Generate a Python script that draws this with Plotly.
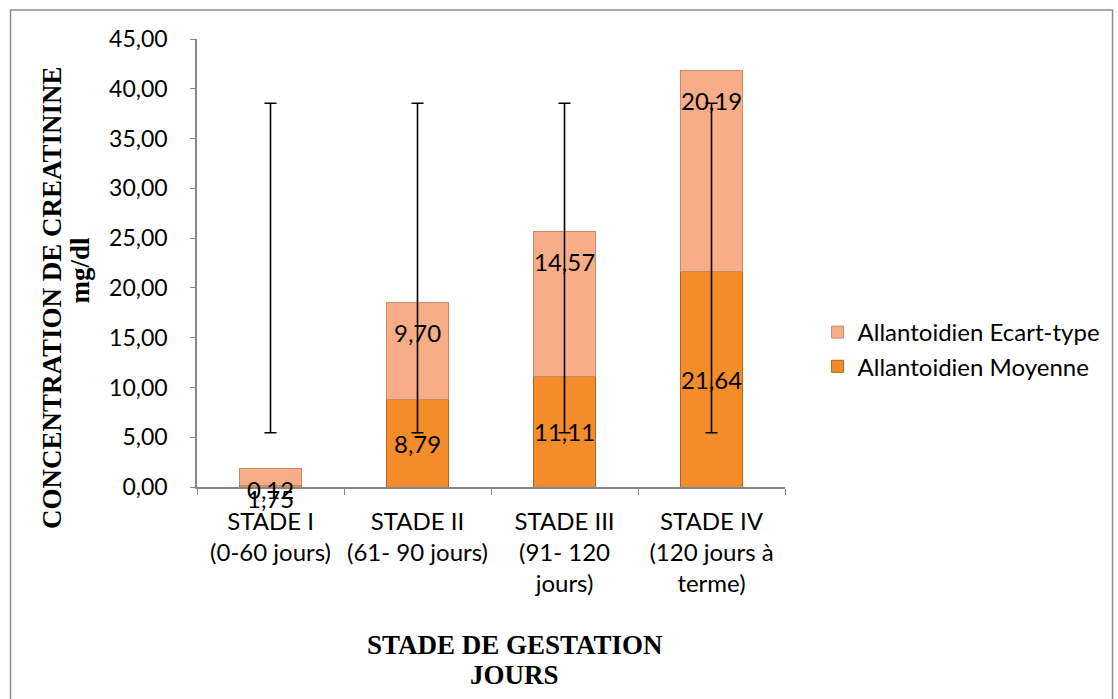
import plotly.graph_objects as go

categories = ["STADE I<br>(0-60 jours)", "STADE II<br>(61- 90 jours)",
              "STADE III<br>(91- 120<br>jours)", "STADE IV<br>(120 jours à<br>terme)"]
moyenne = [0.12, 8.79, 11.11, 21.64]
ecart_type = [1.75, 9.70, 14.57, 20.19]
moyenne_labels = ["0,12", "8,79", "11,11", "21,64"]
ecart_labels = ["1,75", "9,70", "14,57", "20,19"]
# error bars as drawn in the chart (centre value and half-length)
err_center = [22.0, 22.0, 22.0, 22.0]
err_half = [16.55, 16.55, 16.55, 16.55]

W, H = 1118, 699
L, R, T, B = 197, 325, 39, 212
pw, ph = W - L - R, H - T - B

def px_x(px):
    return (px - L) / pw

def px_y(py):
    return (H - B - py) / ph

lab_font = dict(family="Lato", size=24, color="black")
num_font = dict(family="Lato", size=23, color="black")
title_font = dict(family="Liberation Serif", size=27, color="black")

fig = go.Figure()
fig.add_trace(go.Bar(
    x=categories, y=moyenne, name="Allantoidien Moyenne",
    marker=dict(color="#F58C2C", line=dict(color="#B8621C", width=1)),
    legendgroup="m", width=0.42))
fig.add_trace(go.Bar(
    x=categories, y=ecart_type, name="Allantoidien Ecart-type",
    marker=dict(color="#F7AD87", line=dict(color="#C98A69", width=1)),
    legendgroup="e", width=0.42))
fig.add_trace(go.Scatter(
    x=categories, y=err_center, mode="markers",
    marker=dict(size=1, color="rgba(0,0,0,0)"),
    error_y=dict(type="data", array=err_half, visible=True,
                 color="black", thickness=1.6, width=6),
    showlegend=False, hoverinfo="skip"))

annotations = []
for i, c in enumerate(categories):
    ym = moyenne[i] / 2                 # centred in the "Moyenne" segment
    ytop = moyenne[i] + ecart_type[i]   # "inside end" of the "Ecart-type" segment
    annotations.append(dict(x=c, y=ym, text=moyenne_labels[i], showarrow=False,
                            font=lab_font, xref="x", yref="y",
                            yshift=-3 if i == 0 else 0))
    annotations.append(dict(x=c, y=ytop, text=ecart_labels[i], showarrow=False,
                            font=lab_font, xref="x", yref="y", yshift=-30))

annotations.append(dict(x=px_x(50), y=px_y(297), xref="paper", yref="paper",
                        xanchor="center", yanchor="middle",
                        text="<b>CONCENTRATION DE CREATININE</b>", textangle=-90,
                        showarrow=False, font=title_font))
annotations.append(dict(x=px_x(78), y=px_y(270), xref="paper", yref="paper",
                        xanchor="center", yanchor="middle",
                        text="<b>mg/dl</b>", textangle=-90,
                        showarrow=False, font=title_font))
annotations.append(dict(x=px_x(519), y=px_y(645), xref="paper", yref="paper",
                        xanchor="center", yanchor="middle",
                        text="<b>STADE DE GESTATION</b>",
                        showarrow=False, font=title_font))
annotations.append(dict(x=px_x(519), y=px_y(675), xref="paper", yref="paper",
                        xanchor="center", yanchor="middle",
                        text="<b>JOURS</b>",
                        showarrow=False, font=title_font))

fig.update_layout(
    width=W, height=H,
    margin=dict(l=L, r=R, t=T, b=B),
    paper_bgcolor="white", plot_bgcolor="white",
    barmode="stack", separators=", ",
    annotations=annotations,
    legend=dict(x=px_x(826), y=px_y(310), xanchor="left", yanchor="top",
                traceorder="reversed", tracegroupgap=29,
                font=lab_font, bgcolor="rgba(0,0,0,0)"),
    shapes=[dict(type="rect", xref="paper", yref="paper",
                 x0=px_x(8), x1=px_x(1125), y0=px_y(710), y1=px_y(10),
                 line=dict(color="#8C8C8C", width=1.5), fillcolor="rgba(0,0,0,0)")],
    xaxis=dict(showline=True, linecolor="#868686", linewidth=1.5,
               ticks="outside", tickson="boundaries", ticklen=6, tickcolor="#868686",
               tickfont=lab_font, showgrid=False, zeroline=False,
               tickangle=0, ticklabelstandoff=12),
    yaxis=dict(range=[0, 45], dtick=5, tickformat=".2f",
               showline=True, linecolor="#868686", linewidth=1.5,
               ticks="outside", ticklen=5, tickcolor="#868686",
               tickfont=num_font, showgrid=False, zeroline=False,
               ticklabelstandoff=18),
)

fig.write_html("out.html", config={"displayModeBar": False},
               post_script="document.body.style.margin='0';")
